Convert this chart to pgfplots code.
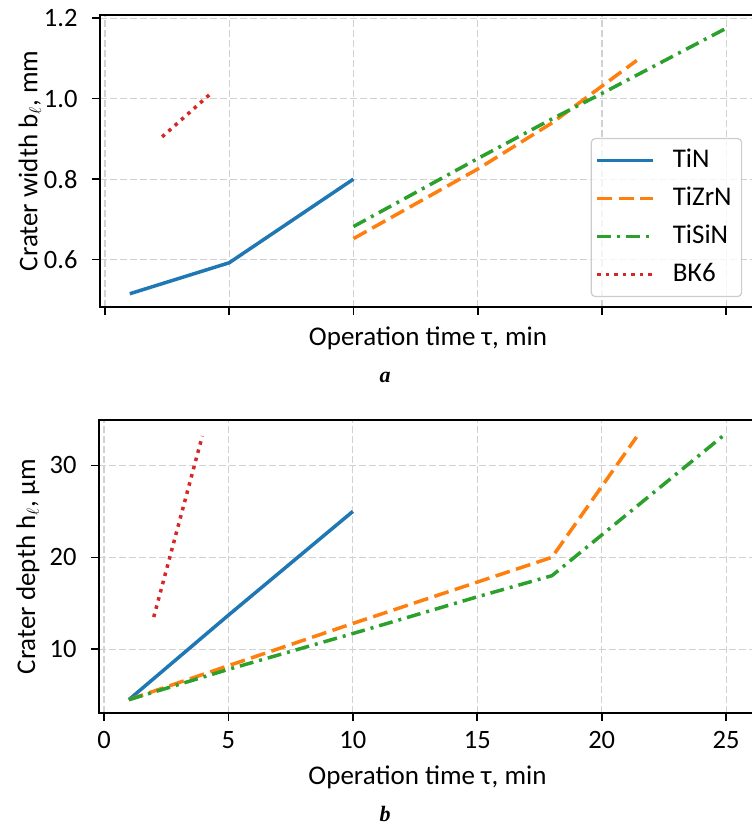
\documentclass[border=0pt]{standalone}
\usepackage{fontspec}
\setmainfont{Carlito}
\newfontfamily\capfont{Liberation Serif}
\usepackage{pgfplots}
\pgfplotsset{compat=1.18}
\definecolor{tabblue}{HTML}{1F77B4}
\definecolor{taborange}{HTML}{FF7F0E}
\definecolor{tabgreen}{HTML}{2CA02C}
\definecolor{tabred}{HTML}{D62728}
\begin{document}
\begin{tikzpicture}
\pgfplotsset{
  mystyle/.style={
    scale only axis,
    xmin=-0.2, xmax=26.2,
    xtick={0,5,10,15,20,25},
    axis line style={line width=1.6pt, black},
    tick style={line width=1.6pt, black},
    major tick length=8pt,
    tick align=outside,
    xtick pos=bottom, ytick pos=left,
    grid=major,
    major grid style={dash pattern=on 7pt off 3pt, line width=1.2pt, black!18},
    tick label style={font=\fontsize{26.5}{26.5}\selectfont},
    label style={font=\fontsize{27}{31}\selectfont},
    /pgf/number format/assume math mode=true,
    yticklabel style={xshift=-11pt},
    xticklabel style={yshift=-7pt},
    legend image code/.code={\draw[##1, line width=3.5pt] (0pt,0pt) -- (56pt,0pt);},
  },
  tin/.style={tabblue, line width=3.5pt},
  tizrn/.style={taborange, line width=3.5pt, dash pattern=on 15pt off 6.5pt},
  tisin/.style={tabgreen, line width=3.5pt, dash pattern=on 14pt off 6pt on 3pt off 6pt},
  bk/.style={tabred, line width=3.5pt, dash pattern=on 3.5pt off 5pt},
}
% top panel (a)
\begin{axis}[mystyle,
  at={(100pt,-307pt)}, anchor=south west,
  width=656pt, height=292pt,
  ymin=0.482, ymax=1.208,
  ytick={0.6,0.8,1.0,1.2},
  yticklabel style={/pgf/number format/fixed, /pgf/number format/fixed zerofill, /pgf/number format/precision=1},
  xticklabels={},
  xlabel={Operation time τ, min},
  ylabel={Crater width b$_\ell$, mm},
  xlabel style={at={(axis description cs:0.5,0)}, anchor=center, yshift=-31pt},
  ylabel style={at={(axis description cs:-0.107,0.5)}, anchor=center},
  legend cell align=left,
  legend style={at={(axis description cs:0.979,0.579)}, anchor=north east,
    draw=black!20, line width=1.2pt, rounded corners=4pt, fill=white, fill opacity=0.8, text opacity=1,
    font=\fontsize{27}{31}\selectfont,
    inner xsep=4pt, inner ysep=3pt, column sep=12pt,
    nodes={inner ysep=6pt, inner xsep=6pt, text height=20pt, text depth=6pt}},
]
\addplot[tin] coordinates {(1,0.515) (5,0.592) (10,0.80)};
\addlegendentry{TiN}
\addplot[tizrn] coordinates {(10,0.652) (15,0.825) (18,0.94) (21.4,1.095)};
\addlegendentry{TiZrN}
\addplot[tisin] coordinates {(10,0.682) (15,0.851) (18,0.95) (20,1.013) (25,1.175)};
\addlegendentry{TiSiN}
\addplot[bk] coordinates {(2.3,0.905) (4.3,1.015)};
\addlegendentry{ВК6}
\end{axis}
% bottom panel (b)
\begin{axis}[mystyle,
  at={(99pt,-713pt)}, anchor=south west,
  width=657pt, height=293pt,
  ymin=3.05, ymax=34.95,
  ytick={10,20,30},
  xlabel={Operation time τ, min},
  ylabel={Crater depth h$_\ell$, μm},
  xlabel style={at={(axis description cs:0.5,0)}, anchor=center, yshift=-64pt},
  ylabel style={at={(axis description cs:-0.108,0.5)}, anchor=center},
]
\addplot[tin] coordinates {(1,4.5) (5,13.7) (10,25)};
\addplot[tizrn] coordinates {(1,4.5) (5,8.2) (10,12.8) (18,20) (21.4,33.1)};
\addplot[tisin] coordinates {(1,4.5) (5,7.8) (10,11.7) (15,15.7) (18,18) (25,33.5)};
\addplot[bk] coordinates {(2,13.5) (3.95,33.2)};
\end{axis}
\node[font=\capfont\bfseries\itshape\fontsize{22}{22}\selectfont] at (385pt,-377pt) {a};
\node[font=\capfont\bfseries\itshape\fontsize{22}{22}\selectfont] at (385pt,-814pt) {b};
\pgfresetboundingbox
\useasboundingbox (0pt,0pt) rectangle (752pt,-825pt);
\end{tikzpicture}
\end{document}
